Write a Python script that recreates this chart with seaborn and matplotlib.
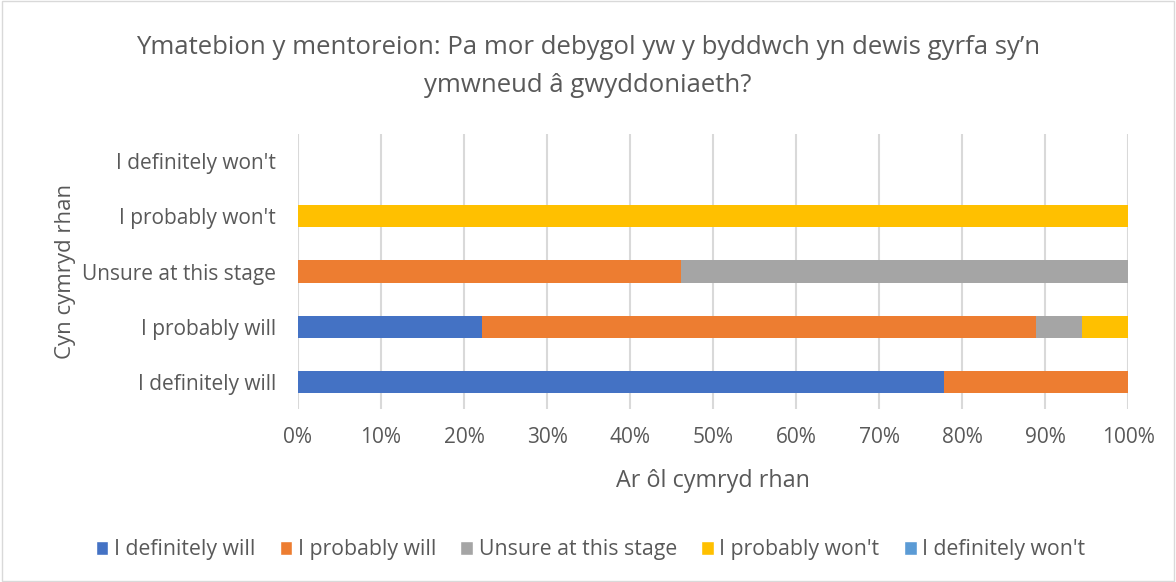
import numpy as np
import pandas as pd
import seaborn as sns
import matplotlib.pyplot as plt
from matplotlib.patches import Patch

# before (rows) vs after (series), percent of respondents
categories = ["I definitely will", "I probably will", "Unsure at this stage",
              "I probably won't", "I definitely won't"]
series_names = ["I definitely will", "I probably will", "Unsure at this stage",
                "I probably won't", "I definitely won't"]
definitely_will = [77.8, 22.2, 0.0, 0.0, 0.0]
probably_will = [22.2, 66.7, 46.2, 0.0, 0.0]
unsure = [0.0, 5.6, 53.8, 0.0, 0.0]
probably_wont = [0.0, 5.5, 0.0, 100.0, 0.0]
definitely_wont = [0.0, 0.0, 0.0, 0.0, 0.0]
colors = ["#4472C4", "#ED7D31", "#A5A5A5", "#FFC000", "#5B9BD5"]
xtick_labels = [f"{v}%" for v in range(0, 101, 10)]

sns.set_style("white")
plt.rcParams["font.family"] = ["Open Sans", "DejaVu Sans"]
text_color = "#595959"

df = pd.DataFrame({"cat": categories,
                   series_names[0]: definitely_will,
                   series_names[1]: probably_will,
                   series_names[2]: unsure,
                   series_names[3]: probably_wont,
                   series_names[4]: definitely_wont})
cum = df[series_names].cumsum(axis=1)
# plot top-down order so first category sits at the bottom
order = categories[::-1]

fig = plt.figure(figsize=(11.76, 5.82), dpi=100)
ax = fig.add_axes([0.2534, 0.297, 0.7058, 0.473])

for name, col in list(zip(series_names, colors))[::-1]:
    d = pd.DataFrame({"cat": df["cat"], "val": cum[name]})
    sns.barplot(data=d, x="val", y="cat", order=order, color=col,
                orient="h", width=0.4, ax=ax, saturation=1, linewidth=0)

ax.set_xlim(0, 100)
ax.set_xticks(range(0, 101, 10))
ax.set_xticklabels(xtick_labels)
ax.xaxis.grid(True, color="#D9D9D9", linewidth=1.5)
ax.set_axisbelow(True)
for s in ax.spines.values():
    s.set_visible(False)
ax.tick_params(axis="both", length=0, labelsize=15, colors=text_color)
ax.tick_params(axis="y", pad=16)
ax.tick_params(axis="x", pad=13)
ax.set_xlabel("Ar ôl cymryd rhan", fontsize=16.8, color=text_color, labelpad=15)
ax.set_ylabel("Cyn cymryd rhan", fontsize=16, color=text_color)
ax.yaxis.set_label_coords(-0.267, 0.5)

fig.text(0.5, 0.886,
         "Ymatebion y mentoreion: Pa mor debygol yw y byddwch yn dewis gyrfa sy\u2019n\nymwneud â gwyddoniaeth?",
         ha="center", va="center", fontsize=18.5, color=text_color, linespacing=1.65)

handles = [Patch(facecolor=c, label=n) for n, c in zip(series_names, colors)]
fig.legend(handles=handles, loc="center", bbox_to_anchor=(0.502, 0.055), ncol=5,
           frameon=False, fontsize=15.3, labelcolor=text_color,
           handlelength=0.6, handleheight=0.7, handletextpad=0.25, columnspacing=1.15)

fig.patches.append(plt.Rectangle((0.002, 0.002), 0.996, 0.996, transform=fig.transFigure,
                                 fill=False, edgecolor="#D9D9D9", linewidth=1))

fig.savefig("out.png", dpi=100)
